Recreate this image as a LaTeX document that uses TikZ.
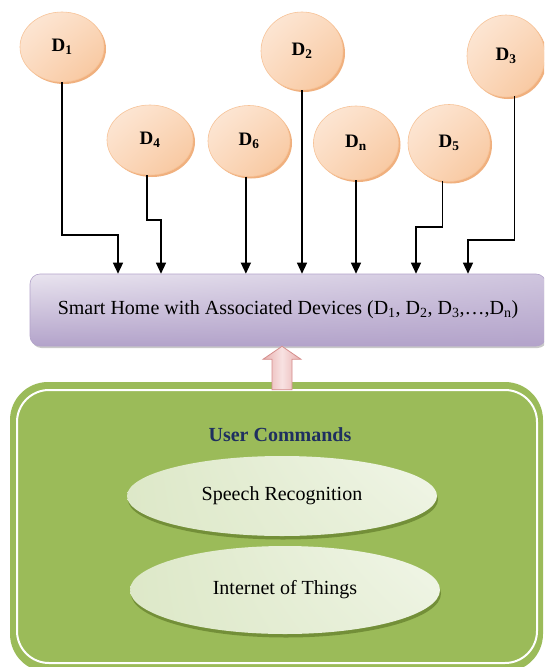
\documentclass[tikz,border=0pt]{standalone}
\usepackage{fontspec}
\setmainfont{Liberation Serif}
\usetikzlibrary{arrows.meta,shadows,calc,shapes.geometric,shadings}
\definecolor{peachL}{HTML}{FDEADB}
\definecolor{peachM}{HTML}{FBD9BD}
\definecolor{peachD}{HTML}{F7C398}
\definecolor{peachE}{HTML}{EFA870}
\definecolor{lavL}{HTML}{E9E4EF}
\definecolor{lavM}{HTML}{CFC5DE}
\definecolor{lavD}{HTML}{B3A3CA}
\definecolor{lavE}{HTML}{9C8BB8}
\definecolor{grn}{HTML}{9BBB59}
\definecolor{grnL}{HTML}{F1F6E8}
\definecolor{grnM}{HTML}{DDE8C8}
\definecolor{grnD}{HTML}{6F8B35}
\definecolor{navy}{HTML}{1F2F60}
\definecolor{pinkL}{HTML}{F8E2E2}
\definecolor{pinkD}{HTML}{E8AFAE}
\definecolor{pinkE}{HTML}{D58E8C}
\newcommand{\Dsub}[1]{D\textsubscript{#1}}
\tikzset{
  dev/.style={ellipse, draw=peachD, line width=0.6pt,
    upper left=peachL, upper right=peachM, lower left=peachM, lower right=peachD,
    drop shadow={shadow xshift=2pt, shadow yshift=-2pt, fill=peachE, opacity=0.9},
    font=\fontsize{19}{22}\selectfont\bfseries, inner sep=0pt},
  conn/.style={line width=1.3pt, -{Triangle[length=11pt,width=10pt]}},
  homebox/.style={rectangle, rounded corners=10pt, draw=lavD, line width=0.6pt,
    upper left=lavL, upper right=lavM, lower left=lavD, lower right=lavD,
    drop shadow={shadow xshift=1.5pt, shadow yshift=-2pt, fill=black!35, opacity=0.6},
    font=\fontsize{20}{24}\selectfont},
  greenbox/.style={rectangle, rounded corners=38pt, fill=grn},
  whiteframe/.style={rectangle, rounded corners=32pt, draw=white, line width=2pt},
  opt/.style={ellipse, inner sep=0pt,
    upper left=grnM, upper right=grnL, lower left=grnM, lower right=grnL!70!grnM,
    drop shadow={shadow xshift=1pt, shadow yshift=-3.5pt, fill=grnD, opacity=0.9},
    font=\fontsize{20}{24}\selectfont},
  pinkarrow/.style={draw=pinkE, line width=0.8pt, left color=pinkD, right color=pinkD, middle color=pinkL}
}
\begin{document}
\begin{tikzpicture}[x={(1pt,0)}, y={(0,-1pt)}]
\useasboundingbox (0,0) rectangle (544,667);
\clip (0,0) rectangle (544,667);
\fill[white] (0,0) rectangle (544,667);

% devices
\node[dev, minimum width=84pt, minimum height=70pt] (d1) at (62,47) {\Dsub{1}};
\node[dev, minimum width=82pt, minimum height=78pt] (d2) at (302,51) {\Dsub{2}};
\node[dev, minimum width=78pt, minimum height=82pt] (d3) at (506,56) {\Dsub{3}};
\node[dev, minimum width=86pt, minimum height=70pt] (d4) at (150,140) {\Dsub{4}};
\node[dev, minimum width=82pt, minimum height=71pt] (d6) at (249,141) {\Dsub{6}};
\node[dev, minimum width=85pt, minimum height=74pt] (dn) at (356,143) {\Dsub{n}};
\node[dev, minimum width=82pt, minimum height=77pt] (d5) at (449,143) {\Dsub{5}};

% smart home box
\node[homebox, minimum width=516pt, minimum height=72pt] (home) at (288,310)
  {Smart Home with Associated Devices (\Dsub{1}, \Dsub{2}, \Dsub{3},…,\Dsub{n})};

% connectors
\draw[conn] (d1.south) |- (118,235) -- (118,0 |- home.north);
\draw[conn] (d4.-95) |- (161,220) -- (161,0 |- home.north);
\draw[conn] (d6.-95) -- (d6.-95 |- home.north);
\draw[conn] (d2.south) -- (d2.south |- home.north);
\draw[conn] (dn.south) -- (dn.south |- home.north);
\draw[conn] (d5.-100) |- (416,227) -- (416,0 |- home.north);
\draw[conn] (d3.-78) |- (468,240) -- (468,0 |- home.north);

% user commands
\node[greenbox, minimum width=533pt, minimum height=290pt] (cmd) at (276.5,527) {};
\node[whiteframe, minimum width=520pt, minimum height=273pt] (frame) at (277,526.5) {};
\node[font=\fontsize{20}{24}\selectfont\bfseries, text=navy] (uc) at (280,435) {User Commands};
\node[opt, minimum width=310pt, minimum height=80pt] (sr) at (282,496) {Speech Recognition};
\node[opt, minimum width=310pt, minimum height=88pt] (iot) at (285,590) {Internet of Things};

% block arrow
\coordinate (pa) at (282,0 |- home.south);
\coordinate (pb) at ($(282,0 |- cmd.north)+(0,8)$);
\draw[pinkarrow] (pa) -- ($(pa)+(19,13)$) -- ($(pa)+(10,13)$) -- ($(pb)+(10,0)$)
  -- ($(pb)+(-10,0)$) -- ($(pa)+(-10,13)$) -- ($(pa)+(-19,13)$) -- cycle;
\end{tikzpicture}
\end{document}
